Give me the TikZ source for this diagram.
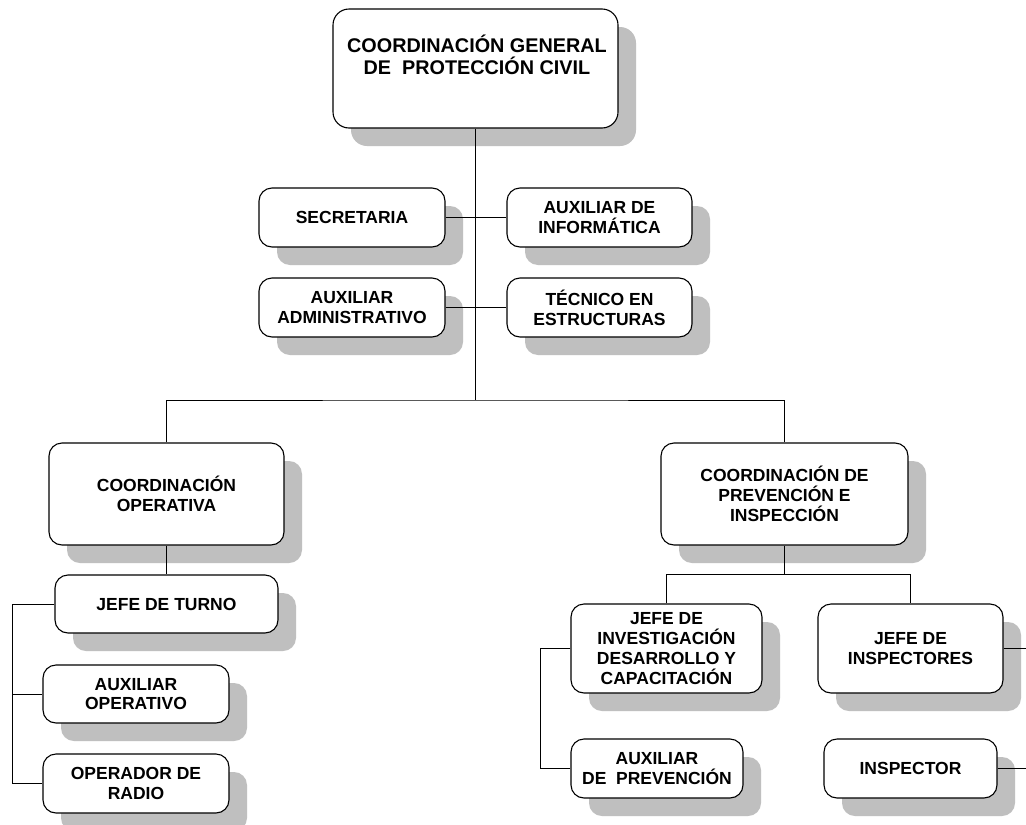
\documentclass[tikz,border=0pt]{standalone}
\usepackage{fontspec}
\setmainfont{Liberation Sans}
\usetikzlibrary{shadows}
\begin{document}
\begin{tikzpicture}[x=1pt,y=-1pt,
  unitbox/.style={draw=black, line width=1.1pt, fill=white, rounded corners=13pt,
    align=center, inner sep=0pt,
    font=\fontsize{17.5}{19.8}\selectfont\bfseries,
    general shadow={fill=black!25, shadow xshift=18pt, shadow yshift=-18pt}},
  boxsize/.style 2 args={minimum width=#1pt, minimum height=#2pt},
  link/.style={draw=black, line width=0.9pt}]

% page frame
\path[use as bounding box, fill=white] (0,0) rectangle (1026,825);
\clip (0,0) rectangle (1026,825);

% head office
\node[unitbox, boxsize={285}{119}, rounded corners=16pt] (top) at (475.5,68.5) {};
\node[align=center, font=\fontsize{19.8}{22}\selectfont\bfseries] (toptext) at (477,54.5)
  {COORDINACIÓN GENERAL\\DE~~PROTECCIÓN CIVIL};

% staff units
\node[unitbox, boxsize={186}{59}] (sec)    at (352,217.5)   {SECRETARIA};
\node[unitbox, boxsize={185}{59}] (info)   at (599.5,217.5) {AUXILIAR DE\\INFORMÁTICA};
\node[unitbox, boxsize={186}{59}] (admin)  at (352,307.5)   {AUXILIAR\\ADMINISTRATIVO};
\node[unitbox, boxsize={185}{59}] (tec)    at (599.5,307.5) {TÉCNICO EN\\ESTRUCTURAS};

% operations branch
\node[unitbox, boxsize={235}{102}] (coordop) at (166.5,494) {COORDINACIÓN\\OPERATIVA};
\node[unitbox, boxsize={223}{58}]  (turno)   at (166.5,604) {JEFE DE TURNO};
\node[unitbox, boxsize={186}{58}]  (auxop)   at (136,694)   {AUXILIAR\\OPERATIVO};
\node[unitbox, boxsize={186}{59}]  (radio)   at (136,783.5) {OPERADOR DE\\RADIO};

% prevention branch
\node[unitbox, boxsize={247}{102}] (coordprev) at (784.5,494)
  {COORDINACIÓN DE\\PREVENCIÓN E\\INSPECCIÓN};
\node[unitbox, boxsize={191}{89}] (invest) at (666.5,648.5)
  {JEFE DE\\INVESTIGACIÓN\\DESARROLLO Y\\CAPACITACIÓN};
\node[unitbox, boxsize={185}{89}] (jinsp)   at (910.5,648.5) {JEFE DE\\INSPECTORES};
\node[unitbox, boxsize={172}{59}] (auxprev) at (657,768.5)   {AUXILIAR\\DE~~PREVENCIÓN};
\node[unitbox, boxsize={173}{59}] (insp)    at (910.5,768.5) {INSPECTOR};

% connector junctions
\coordinate (bus)   at (475.5,400);
\coordinate (bus2)  at (784.5,574.5);
\coordinate (lbar)  at (12,604);
\coordinate (rbar)  at (540,648.5);
\coordinate (edge1) at (1032,648.5);
\coordinate (edge2) at (1032,768.5);

% connectors
\path[link] (top.south) -- (bus);
\path[link] (sec.east) -- (info.west);
\path[link] (admin.east) -- (tec.west);
\path[link] (coordop.north) |- (bus) -| (coordprev.north);
\path[link] (coordop.south) -- (turno.north);
\path[link] (turno.west) -- (lbar) |- (auxop.west);
\path[link] (lbar) |- (radio.west);
\path[link] (coordprev.south) -- (bus2);
\path[link] (invest.north) |- (bus2) -| (jinsp.north);
\path[link] (invest.west) -- (rbar) |- (auxprev.west);
\path[link] (jinsp.east) -- (edge1);
\path[link] (insp.east) -- (edge2);
\end{tikzpicture}
\end{document}
